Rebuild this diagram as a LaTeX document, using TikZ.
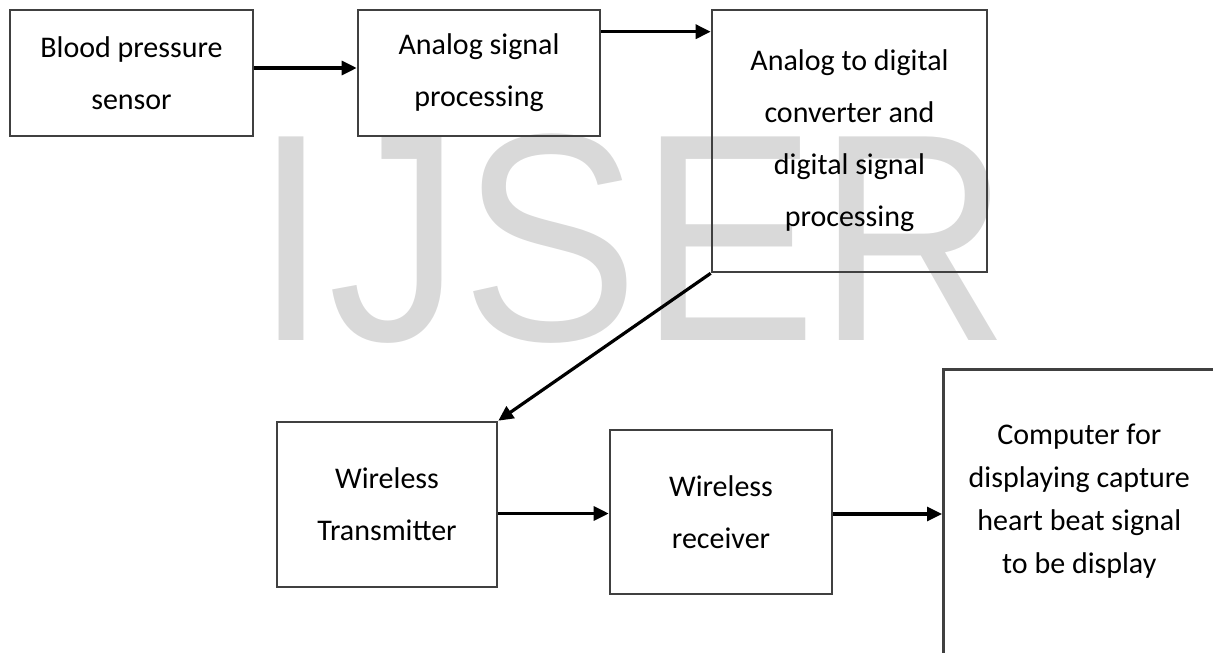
\documentclass[tikz,border=0pt]{standalone}
\usepackage{fontspec}
\setmainfont{Carlito}
\setsansfont{Liberation Sans}
\usetikzlibrary{arrows.meta}

\begin{document}
\begin{tikzpicture}[x=0.5pt, y=-0.5pt,
  block/.style={draw=black!75, line width=1.3pt, inner sep=0pt, font=\fontsize{15}{26}\selectfont},
  txt/.style={block, align=center},
  link/.style={-{Triangle[length=7.5pt,width=7pt]}, line width=1.6pt}]
\useasboundingbox (0,0) rectangle (1213,652);
\clip (0,0) rectangle (1213,652);
\node[text=black!15, inner sep=0pt, anchor=base, font=\sffamily\fontsize{148}{148}\selectfont] (mark) at (632,340) {\scalebox{0.9}[1]{IJSER}};

\node[txt, minimum width=121.5pt, minimum height=63pt] (sensor) at (131.5,73) {Blood pressure\\sensor};
\node[txt, minimum width=121pt, minimum height=63pt] (asp) at (479,73) {Analog signal\\processing};
\node[txt, minimum width=137.5pt, minimum height=131pt] (adc) at (849.5,141) {Analog to digital\\converter and\\digital signal\\processing};
\node[txt, minimum width=110pt, minimum height=82.5pt] (tx) at (387,504.5) {Wireless\\Transmitter};
\node[txt, minimum width=111pt, minimum height=82pt] (rx) at (721,512) {Wireless\\receiver};
\node[block, anchor=north west, minimum width=136pt, text height=37.5pt, text depth=118.5pt] (pc) at (942,368)
  {\fontsize{15}{21.5}\selectfont\begin{tabular}[t]{@{}c@{}}Computer for\\displaying capture\\heart beat signal\\to be display\end{tabular}};

\draw[link] ([yshift=2.5pt]sensor.east) -- ([yshift=2.5pt]asp.west);
\draw[link] ([yshift=-11.5pt]asp.north east) -- ([yshift=-11.5pt]adc.north west);
\draw[link] (adc.south west) -- (tx.north east);
\draw[link] ([yshift=-4.5pt]tx.east) -- ([yshift=-4.5pt]tx.east -| rx.west);
\draw[link] ([yshift=-1pt]rx.east) -- ([yshift=-1pt]rx.east -| pc.west);
\end{tikzpicture}
\end{document}
